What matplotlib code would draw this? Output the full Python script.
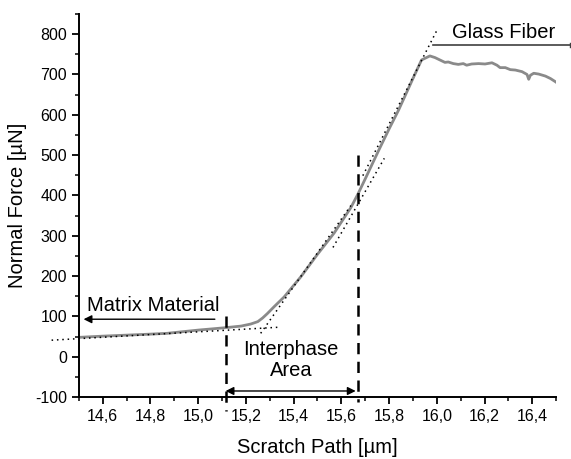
import matplotlib
matplotlib.use("Agg")
import matplotlib.pyplot as plt
from matplotlib.ticker import MultipleLocator, FuncFormatter

plt.rcParams['font.family'] = ['Liberation Sans', 'DejaVu Sans']

# Measured normal force curve
path_um = [14.50, 14.60, 14.80, 14.87, 15.00, 15.115, 15.18, 15.22, 15.25, 15.27,
           15.29, 15.32, 15.36, 15.43, 15.50, 15.57, 15.64, 15.67, 15.70, 15.755,
           15.80, 15.84, 15.90, 15.936, 15.971, 15.992, 16.013, 16.034, 16.048,
           16.069, 16.090, 16.111, 16.125, 16.146, 16.175, 16.202, 16.231, 16.252,
           16.265, 16.287, 16.308, 16.329, 16.357, 16.378, 16.385, 16.392, 16.406,
           16.427, 16.455, 16.476, 16.497, 16.504, 16.508]
force_uN = [48, 51, 56, 58, 66, 72, 76, 81, 87, 96,
            107, 125, 148, 198, 254, 307, 370, 404, 441, 510,
            565, 612, 690, 736, 746, 742, 736, 730, 731,
            727, 725, 727, 723, 726, 727, 726, 729, 723,
            717, 717, 712, 711, 707, 700, 688, 698, 703,
            701, 696, 690, 682, 679, 686]

# Tangent lines (start x, start y, end x, end y)
tangent_matrix = [14.386, 41, 15.334, 73]
tangent_lower = [15.262, 58, 15.64, 375]
tangent_middle = [15.565, 271, 15.78, 492]
tangent_steep = [15.69, 449, 15.999, 808]

# Region boundaries
boundary_x = [15.115, 15.67]
boundary_y = [[100, -135], [500, -112]]

fig = plt.figure(figsize=(5.71, 4.59), dpi=100)
ax = fig.add_axes([0.138, 0.135, 0.836, 0.8345])

ax.plot(path_um, force_uN, color='#8a8a8a', lw=2.0, zorder=2)

for t in (tangent_matrix, tangent_lower, tangent_middle, tangent_steep):
    ax.plot([t[0], t[2]], [t[1], t[3]], color='black', lw=1.1,
            linestyle=(0, (1, 2.5)), clip_on=False, zorder=3)

for bx, (y0, y1) in zip(boundary_x, boundary_y):
    ax.plot([bx, bx], [y0, y1], color='black', lw=1.8,
            linestyle=(0, (4.5, 3)), clip_on=False, zorder=4)

# Annotations
ax.annotate('', xy=(14.52, 93), xytext=(15.07, 93),
            arrowprops=dict(arrowstyle='-|>', color='black', lw=1.0,
                            mutation_scale=12, shrinkA=0, shrinkB=0))
ax.text(14.81, 128, 'Matrix Material', fontsize=14.5, ha='center', va='center')

ax.annotate('', xy=(15.115, -85), xytext=(15.66, -85),
            arrowprops=dict(arrowstyle='<|-|>', color='black', lw=1.0,
                            mutation_scale=12, shrinkA=0, shrinkB=0))
ax.text(15.39, -8, 'Interphase\nArea', fontsize=14.5, ha='center', va='center',
        linespacing=1.15)

glass_x = [15.986, 16.558]
glass_y = 773
ax.plot(glass_x, [glass_y, glass_y], color='#404040', lw=1.2, clip_on=False)
ax.plot([glass_x[1], glass_x[1]], [glass_y - 6, glass_y + 6], color='#404040',
        lw=1.0, clip_on=False)
ax.text(16.28, 805, 'Glass Fiber', fontsize=14.5, ha='center', va='center')

ax.set_xlim(14.5, 16.5)
ax.set_ylim(-100, 850)
ax.xaxis.set_minor_locator(MultipleLocator(0.1))
ax.yaxis.set_major_locator(MultipleLocator(100))
ax.yaxis.set_minor_locator(MultipleLocator(50))
ax.set_xticks([14.6 + 0.2 * i for i in range(10)])
ax.xaxis.set_major_formatter(FuncFormatter(lambda v, p: f"{v:.1f}".replace('.', ',')))
ax.yaxis.set_major_formatter(FuncFormatter(lambda v, p: f"{int(round(v))}"))

for s in ('top', 'right'):
    ax.spines[s].set_visible(False)
for s in ('left', 'bottom'):
    ax.spines[s].set_linewidth(1.4)
ax.tick_params(which='major', direction='out', length=5, width=1.3, labelsize=11.5)
ax.tick_params(which='minor', direction='out', length=3, width=1.1)

ax.set_xlabel('Scratch Path [µm]', fontsize=14.5, labelpad=10)
ax.set_ylabel('Normal Force [µN]', fontsize=14.5, labelpad=6)

fig.savefig('out.png', dpi=100)
